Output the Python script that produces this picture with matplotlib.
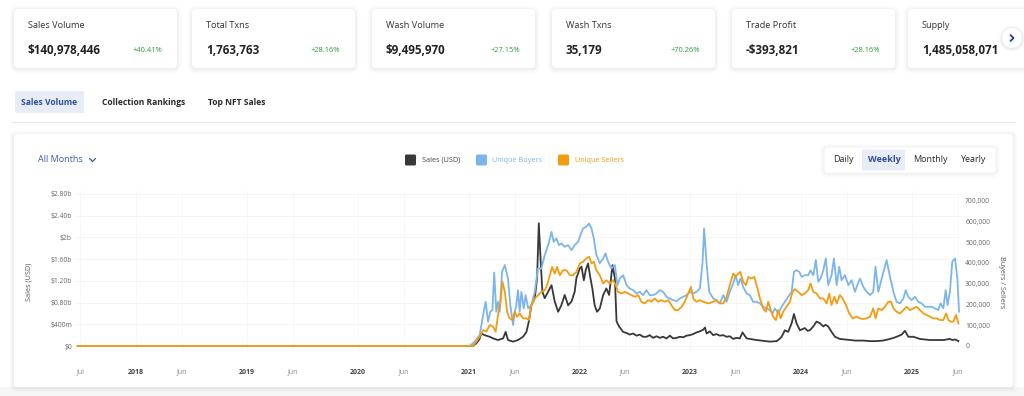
import numpy as np
import matplotlib
matplotlib.use('Agg')
import matplotlib.pyplot as plt
from matplotlib.patches import FancyBboxPatch, Rectangle, Circle

plt.rcParams['font.family'] = ['Open Sans', 'DejaVu Sans']

# ---------------- data ----------------
card_titles = ["Sales Volume", "Total Txns", "Wash Volume", "Wash Txns", "Trade Profit", "Supply"]
card_values = ["$140,978,446", "1,763,763", "$9,495,970", "35,179", "-$393,821", "1,485,058,071"]
card_changes = ["+40.41%", "+28.16%", "+27.15%", "+70.26%", "+28.16%", ""]

tabs = ["Sales Volume", "Collection Rankings", "Top NFT Sales"]
periods = ["Daily", "Weekly", "Monthly", "Yearly"]
legend_labels = ["Sales (USD)", "Unique Buyers", "Unique Sellers"]

# weeks since 2021-01-01 ; sales in $ billions
sales_weeks = [-184, 0, 2.0, 3.6, 5.0, 6.0, 7.5, 9.9, 11.5, 13.8, 16.2, 17.4, 18.5, 20.9, 23.2, 25.6,
               27.2, 28.3, 29.5, 31.1, 32.2, 33.0, 33.9, 34.7, 35.8, 37.4, 39.0, 40.5, 42.1, 43.6,
               45.2, 46.8, 48.4, 49.9, 50.7, 52.3, 53.1, 54.2, 55.1, 56.2, 57.3, 58.2, 59.3, 60.4,
               61.7, 63.3, 64.8, 66.1, 67.7, 68.8, 69.6, 70.8, 72.7, 74.3, 75.8, 77.4, 79.0, 80.5,
               82.1, 83.7, 85.2, 86.8, 88.4, 90.0, 91.5, 93.1, 94.7, 96.2, 97.8, 99.4, 101.0, 102.5,
               104.1, 105.7, 107.2, 108.8, 110.4, 111.2, 112.0, 113.5, 115.1, 116.6, 118.2, 119.8,
               121.4, 122.9, 124.5, 126.0, 127.6, 128.9, 130.8, 132.3, 134.0, 135.5, 137.5, 139.5,
               141.8, 144.9, 146.0, 147.3, 148.8, 150.4, 152.0, 153.1, 154.3, 155.9, 157.0, 158.2,
               159.5, 160.6, 162.2, 163.7, 165.3, 166.9, 168.0, 169.2, 170.8, 172.4, 174.7, 177.0,
               179.4, 182.0, 185.7, 189.0, 192.0, 195.0, 198.3, 200.0, 201.4, 203.8, 205.3, 206.9,
               209.3, 212.4, 215.0, 217.1, 220.0, 223.4, 225.0, 226.5, 227.7, 228.9, 230.5]
sales_b = [0, 0, 0.0, 0.05, 0.12, 0.23, 0.20, 0.17, 0.14, 0.11, 0.14, 0.26, 0.11, 0.08, 0.11, 0.17,
           0.26, 0.45, 0.75, 0.88, 1.25, 2.26, 1.55, 1.00, 0.88, 1.00, 1.12, 0.82, 0.63, 0.75,
           0.94, 0.75, 0.82, 1.00, 1.25, 1.43, 1.46, 1.21, 1.40, 1.52, 1.25, 1.06, 0.75, 0.63,
           0.69, 0.94, 1.06, 0.94, 1.49, 1.25, 0.45, 0.36, 0.26, 0.24, 0.21, 0.23, 0.19, 0.21,
           0.17, 0.17, 0.20, 0.15, 0.18, 0.15, 0.17, 0.14, 0.19, 0.14, 0.15, 0.17, 0.16, 0.19,
           0.20, 0.22, 0.25, 0.27, 0.30, 0.34, 0.23, 0.27, 0.20, 0.22, 0.19, 0.20,
           0.17, 0.18, 0.13, 0.15, 0.14, 0.25, 0.14, 0.13, 0.12, 0.11, 0.10, 0.09,
           0.08, 0.09, 0.12, 0.17, 0.29, 0.26, 0.42, 0.59, 0.42, 0.29, 0.31, 0.33,
           0.28, 0.29, 0.36, 0.45, 0.42, 0.36, 0.39, 0.36, 0.26, 0.17, 0.13, 0.12,
           0.11, 0.10, 0.10, 0.09, 0.09, 0.10, 0.13, 0.15, 0.17, 0.21, 0.28, 0.17,
           0.17, 0.13, 0.12, 0.11, 0.11, 0.11, 0.12, 0.13, 0.11, 0.12, 0.09]

# unique buyers, thousands
buyers_weeks = [-184, 0, 0.5, 2.8, 5.2, 6.8, 8.0, 9.1, 10.2, 11.2, 12.0, 13.0, 13.8, 14.6, 15.7, 17.0,
                18.5, 19.6, 20.9, 21.7, 22.4, 23.2, 24.0, 24.8, 25.9, 26.8, 28.0, 29.5, 31.1, 32.6,
                34.2, 35.8, 37.4, 39.0, 40.0, 41.3, 42.5, 43.6, 45.2, 46.8, 48.4, 49.9, 51.5, 52.6,
                53.8, 55.4, 56.7, 57.8, 58.9, 60.1, 61.7, 63.3, 64.4, 65.6, 67.2, 68.8, 70.0, 71.1,
                72.7, 74.3, 75.8, 77.4, 79.0, 80.5, 82.1, 83.7, 85.2, 86.8, 88.4, 90.0, 91.5, 93.1,
                94.7, 96.2, 97.8, 99.4, 101.0, 102.5, 104.1, 105.7, 107.2, 108.8, 110.1, 110.8, 111.9,
                113.2, 115.1, 116.6, 118.2, 119.8, 121.4, 122.9, 124.5, 125.7, 126.8, 127.9, 129.2,
                130.8, 132.3, 133.9, 135.5, 137.1, 138.6, 140.2, 141.8, 143.0, 144.1, 145.7, 147.3,
                148.8, 150.4, 152.0, 153.1, 154.3, 155.6, 156.7, 158.2, 159.8, 160.9, 162.2, 163.4,
                164.5, 165.6, 166.9, 168.1, 169.2, 170.8, 171.9, 173.2, 174.4, 175.5, 177.1, 178.7,
                180.2, 181.8, 182.9, 184.2, 185.7, 187.3, 188.9, 190.4, 191.5, 192.8, 194.4, 195.9,
                196.7, 198.3, 199.9, 201.4, 203.0, 204.6, 205.7, 206.9, 208.5, 210.1, 211.6, 213.2,
                214.8, 216.3, 217.9, 219.5, 221.0, 222.1, 223.4, 224.5, 225.4, 226.5, 227.6, 228.9,
                230.0, 230.8]
buyers_k = [0, 0, 0, 21, 53, 149, 213, 117, 165, 173, 354, 165, 213, 165, 357, 390,
            325, 197, 101, 165, 197, 269, 165, 261, 181, 245, 181, 197, 261, 373,
            373, 438, 486, 550, 502, 518, 486, 494, 478, 486, 462, 486, 502, 534,
            566, 574, 590, 566, 518, 438, 398, 422, 446, 406, 373, 390, 293, 325,
            341, 293, 277, 269, 253, 261, 245, 269, 245, 245, 253, 269, 261, 237,
            229, 221, 216, 229, 237, 245, 261, 253, 261, 277, 406, 566, 406,
            261, 229, 221, 205, 245, 213, 261, 301, 341, 293, 325, 285,
            253, 245, 213, 213, 205, 189, 181, 173, 157, 181, 157, 189,
            213, 237, 261, 357, 365, 357, 333, 341, 341, 365, 341, 414,
            309, 325, 365, 422, 293, 341, 422, 293, 382, 317, 341, 293,
            317, 261, 293, 325, 285, 261, 245, 261, 382, 261, 325, 382,
            414, 333, 261, 213, 205, 229, 269, 237, 221, 237, 213, 205,
            189, 189, 189, 181, 173, 205, 181, 269, 197, 261, 406, 422,
            325, 165]

# unique sellers, thousands
sellers_weeks = [-184, 0, 2.0, 3.6, 5.2, 6.8, 8.3, 9.9, 11.5, 12.7, 13.8, 15.0, 15.9, 17.0, 18.1, 19.3,
                 20.6, 21.7, 22.8, 24.0, 25.6, 27.2, 28.4, 29.5, 31.1, 32.7, 34.2, 35.8, 36.9, 38.2,
                 39.3, 40.5, 41.6, 42.9, 44.4, 46.0, 47.6, 49.1, 50.7, 52.3, 53.8, 55.4, 56.7, 57.8,
                 58.9, 60.1, 61.7, 63.3, 64.8, 66.4, 68.0, 69.2, 70.3, 71.9, 73.5, 75.0, 76.6, 78.2,
                 79.8, 81.3, 82.9, 84.5, 86.0, 87.6, 89.2, 90.7, 92.3, 93.9, 95.4, 97.0, 98.6, 100.2,
                 101.7, 103.3, 104.6, 105.7, 107.2, 108.8, 110.4, 112.7, 115.1, 116.6, 118.2, 119.8,
                 121.4, 122.9, 124.5, 125.7, 126.8, 127.9, 129.2, 130.5, 131.6, 133.1, 134.4, 135.5,
                 137.1, 138.6, 139.9, 141.0, 142.2, 143.3, 144.6, 145.7, 146.8, 148.0, 149.6, 151.2,
                 152.4, 153.5, 155.1, 156.7, 158.2, 159.8, 160.9, 162.2, 163.7, 165.3, 166.9, 168.5,
                 169.7, 170.8, 172.1, 173.2, 174.7, 176.0, 177.6, 179.1, 180.7, 182.6, 184.2, 185.7,
                 187.3, 188.9, 190.4, 191.5, 192.8, 194.4, 195.9, 197.5, 198.8, 199.9, 201.4, 203.0,
                 204.6, 206.1, 207.7, 209.3, 210.8, 212.4, 214.0, 215.6, 217.1, 218.7, 220.3, 221.8,
                 223.4, 224.7, 225.8, 226.9, 228.1, 229.4, 230.5]
sellers_k = [0, 0, 0, 21, 45, 77, 69, 101, 93, 69, 149, 213, 309, 261, 165, 133,
             125, 165, 141, 157, 133, 133, 125, 197, 229, 245, 261, 269, 293, 341,
             381, 349, 381, 341, 365, 365, 341, 341, 357, 398, 406, 422, 430, 398,
             406, 365, 341, 301, 317, 301, 317, 293, 261, 253, 261, 253, 245, 237,
             245, 213, 205, 221, 213, 229, 213, 221, 213, 221, 197, 173, 173, 189,
             213, 253, 285, 229, 213, 221, 213, 205, 213, 221, 205, 205,
             237, 293, 349, 333, 349, 357, 309, 293, 333, 325, 333, 293,
             229, 181, 165, 213, 173, 141, 125, 173, 133, 165, 189, 213,
             261, 274, 261, 245, 253, 269, 301, 261, 253, 229, 229, 205,
             253, 197, 237, 205, 245, 229, 197, 157, 133, 141, 133, 130,
             133, 141, 181, 133, 181, 173, 189, 213, 213, 181, 165, 157,
             173, 189, 173, 181, 189, 173, 157, 149, 141, 133, 133, 125,
             125, 157, 125, 117, 117, 149, 109]

left_ticks_b = [0, 0.4, 0.8, 1.2, 1.6, 2.0, 2.4, 2.8]
left_tick_labels = ["$0", "$400m", "$0.80b", "$1.20b", "$1.60b", "$2b", "$2.40b", "$2.80b"]
right_ticks_k = [0, 100, 200, 300, 400, 500, 600, 700]
right_tick_labels = ["0", "100,000", "200,000", "300,000", "400,000", "500,000", "600,000", "700,000"]
x_tick_dates = ['2017-07-01', '2018-01-01', '2018-06-01', '2019-01-01', '2019-06-01', '2020-01-01',
                '2020-06-01', '2021-01-01', '2021-06-01', '2022-01-01', '2022-06-01', '2023-01-01',
                '2023-06-01', '2024-01-01', '2024-06-01', '2025-01-01', '2025-06-01']
x_tick_labels = ['Jul', '2018', 'Jun', '2019', 'Jun', '2020', 'Jun', '2021', 'Jun', '2022', 'Jun',
                 '2023', 'Jun', '2024', 'Jun', '2025', 'Jun']

# ---------------- styling ----------------
C_SALES = '#383838'
C_BUY = '#7cb5ec'
C_SELL = '#f39c12'
C_TITLE = '#333333'
C_BLUE_TXT = '#2f4f9a'
C_GREEN = '#2e9a3e'
C_HILITE = '#e8ecf6'

W, H = 1024, 396
fig = plt.figure(figsize=(W / 100, H / 100), dpi=100)
fig.patch.set_facecolor('white')

bg = fig.add_axes([0, 0, 1, 1], zorder=0)
bg.set_xlim(0, W)
bg.set_ylim(H, 0)
bg.axis('off')


def card(x0, y0, x1, y1, r=4, shadow=True, fc='white', ec='none', z=1, strength=1.0):
    if shadow:
        for i, a in enumerate([0.018, 0.015, 0.012, 0.009, 0.006]):
            d = i + 1
            bg.add_patch(FancyBboxPatch((x0 - d, y0 - d + 1), x1 - x0 + 2 * d, y1 - y0 + 2 * d,
                                        boxstyle=f"round,pad=0,rounding_size={r + d}",
                                        fc='#000000', ec='none', alpha=a * strength, zorder=z - 0.5))
    bg.add_patch(FancyBboxPatch((x0, y0), x1 - x0, y1 - y0,
                                boxstyle=f"round,pad=0,rounding_size={r}",
                                fc=fc, ec=ec, lw=0.6, zorder=z))


# KPI cards
card_lefts = [14, 192, 372, 552, 732, 908]
card_w = 163
for i, (t, v, c) in enumerate(zip(card_titles, card_values, card_changes)):
    x0 = card_lefts[i]
    x1 = min(x0 + card_w, W + 10)
    card(x0, 9, x1, 68)
    bg.text(x0 + 14, 25, t, fontsize=6.6, color=C_TITLE, va='center', ha='left', zorder=3)
    bg.text(x0 + 14, 50, v, fontsize=8.4, color='#222222', fontweight='bold',
            va='center', ha='left', zorder=3)
    if c:
        bg.text(x0 + card_w - 15, 50, c, fontsize=5.4, color=C_GREEN, va='center', ha='right', zorder=3)

# scroll arrow button
for i, a in enumerate([0.04, 0.03, 0.015]):
    bg.add_patch(Circle((1012, 38.5), 10 + i + 1, fc='black', ec='none', alpha=a, zorder=4))
bg.add_patch(Circle((1012, 38), 10, fc='white', ec='none', zorder=5))
bg.plot([1010.5, 1013.5, 1010.5], [35, 38, 41], color='#2b3f8c', lw=1.3, zorder=6,
        solid_capstyle='round', solid_joinstyle='round')

# tabs
bg.add_patch(FancyBboxPatch((15, 91), 69, 22, boxstyle="round,pad=0,rounding_size=2",
                            fc=C_HILITE, ec='none', zorder=1))
tab_x = [21, 102, 208]
for i, (tx, tl) in enumerate(zip(tab_x, tabs)):
    bg.text(tx, 102.5, tl, fontsize=6.1, fontweight='bold',
            color=C_BLUE_TXT if i == 0 else '#2a2a2a', va='center', ha='left', zorder=3)
bg.plot([12, 1015], [122, 122], color='#e8e8e8', lw=0.8, zorder=1)

# chart card
bg.add_patch(Rectangle((0, 387), W, 9, fc='#f6f6f7', ec='none', zorder=0.2))
card(14, 134, 1013, 387, r=3)

# All Months selector
bg.text(38, 160, "All Months", fontsize=6.5, color='#3d5aa8', va='center', ha='left', zorder=3)
bg.plot([89.5, 92.5, 95.5], [158.5, 161.5, 158.5], color='#3d5aa8', lw=0.9, zorder=3,
        solid_capstyle='round')

# legend
leg_sq = [405, 476, 558]
leg_tx = [422, 492, 575]
leg_col = [C_SALES, C_BUY, C_SELL]
leg_txt_col = ['#444444', C_BUY, C_SELL]
for sx, tx, lab, col, tcol in zip(leg_sq, leg_tx, legend_labels, leg_col, leg_txt_col):
    bg.add_patch(FancyBboxPatch((sx, 154.5), 11, 11, boxstyle="round,pad=0,rounding_size=1.5",
                                fc=col, ec='none', zorder=3))
    bg.text(tx, 160, lab, fontsize=5.2, color=tcol, va='center', ha='left', zorder=3)

# period buttons
card(824, 147, 996, 173, r=3, shadow=True, ec='#f2f2f2', z=2, strength=0.7)
bg.add_patch(FancyBboxPatch((862, 149.5), 43, 21, boxstyle="round,pad=0,rounding_size=2",
                            fc=C_HILITE, ec='none', zorder=3))
per_x = [843, 884, 930, 973]
for i, (px, pl) in enumerate(zip(per_x, periods)):
    bg.text(px, 160, pl, fontsize=6.5, color=C_BLUE_TXT if i == 1 else '#2a2a2a',
            fontweight='bold' if i == 1 else 'normal', va='center', ha='center', zorder=4)

# axis titles
bg.text(29, 282, "Sales (USD)", rotation=90, fontsize=5.2, color='#555555',
        va='center', ha='center', zorder=3)
bg.text(1001, 282, "Buyers / Sellers", rotation=270, fontsize=5.2, color='#555555',
        va='center', ha='center', zorder=3)

# ---------------- main chart ----------------
AX_L, AX_R, AX_T, AX_B = 75, 961, 190, 352
ax = fig.add_axes([AX_L / W, 1 - AX_B / H, (AX_R - AX_L) / W, (AX_B - AX_T) / H], zorder=5)
ax.patch.set_alpha(0)
ax2 = ax.twinx()
ax2.patch.set_alpha(0)

base = np.datetime64('2021-01-01T00:00')


def to_dates(weeks):
    return base + (np.array(weeks) * 7 * 24 * 60).round().astype(int).astype('timedelta64[m]')


LW = 1.3
ax2.plot(to_dates(buyers_weeks), np.array(buyers_k) * 1000, color=C_BUY, lw=LW, zorder=2,
         solid_joinstyle='round')
ax.plot(to_dates(sales_weeks), np.array(sales_b) * 1e9, color=C_SALES, lw=LW, zorder=3,
        solid_joinstyle='round')
ax2.plot(to_dates(sellers_weeks), np.array(sellers_k) * 1000, color=C_SELL, lw=LW, zorder=4,
         solid_joinstyle='round')

# px per unit: left 54.29 px / $1b, right 20.76 px / 100k ; zero at y=346
ax.set_ylim(-(AX_B - 346) / 54.29 * 1e9, (346 - AX_T) / 54.29 * 1e9)
ax2.set_ylim(-(AX_B - 346) / 20.76 * 1e5, (346 - AX_T) / 20.76 * 1e5)
ax.set_xlim(np.datetime64('2017-06-14'), np.datetime64('2025-06-11'))

ax.set_yticks(np.array(left_ticks_b) * 1e9)
ax.set_yticklabels(left_tick_labels)
ax2.set_yticks(np.array(right_ticks_k) * 1000)
ax2.set_yticklabels(right_tick_labels)

ax.set_xticks([np.datetime64(d) for d in x_tick_dates])
ax.set_xticklabels(x_tick_labels)
for lab in ax.get_xticklabels():
    if lab.get_text().isdigit():
        lab.set_fontweight('bold')
        lab.set_color('#444444')
    else:
        lab.set_color('#888888')

ax.tick_params(axis='x', length=0, pad=12, labelsize=5.0)
ax.tick_params(axis='y', length=0, pad=2.2, labelsize=4.9, labelcolor='#666666')
ax2.tick_params(axis='y', length=0, pad=3, labelsize=4.9, labelcolor='#666666')

for a in (ax, ax2):
    for s in a.spines.values():
        s.set_visible(False)

ax.grid(axis='y', color='#f2f2f2', lw=0.6)
ax.grid(axis='x', color='#f7f7f7', lw=0.6)
ax.set_axisbelow(True)

fig.savefig('out.png', dpi=100, facecolor=fig.get_facecolor())
